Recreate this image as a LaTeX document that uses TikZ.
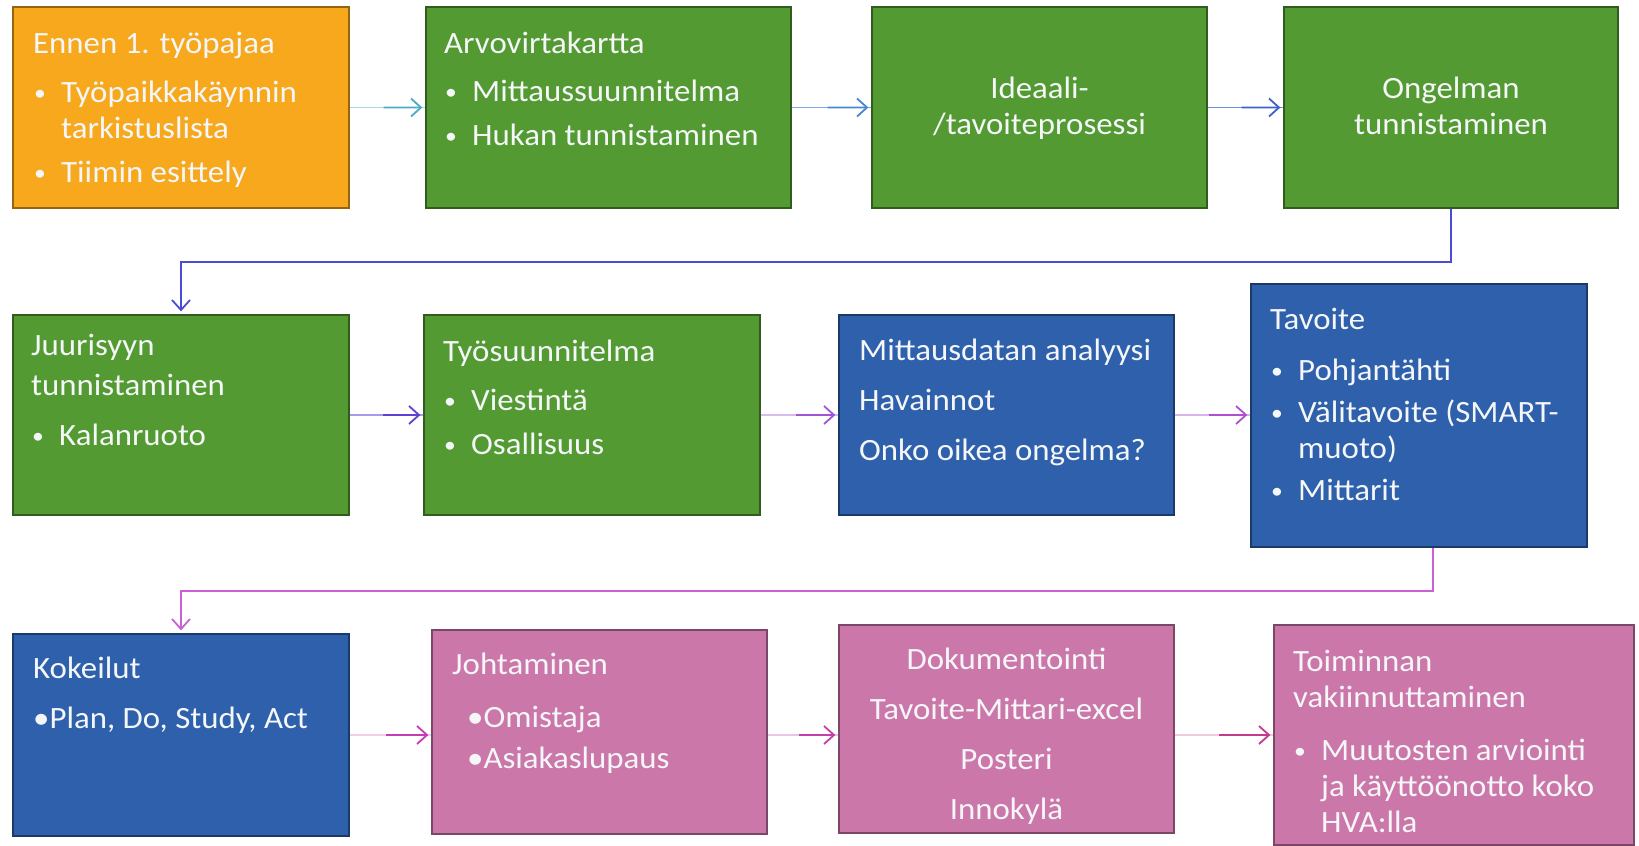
\documentclass[tikz,border=0pt]{standalone}
\usepackage{fontspec}
\setmainfont{Carlito}[FakeStretch=1.06]
\usetikzlibrary{arrows.meta,calc}
\definecolor{corange}{HTML}{F7A81D}
\definecolor{cgreen}{HTML}{529A31}
\definecolor{cblue}{HTML}{2E60AC}
\definecolor{cpink}{HTML}{CC77AA}
\definecolor{txtwhite}{HTML}{F4F6F8}
\definecolor{la1}{HTML}{A8D8E6}\definecolor{da1}{HTML}{4BACC6}
\definecolor{la2}{HTML}{7FAEE6}\definecolor{da2}{HTML}{4A86D0}
\definecolor{la3}{HTML}{6F93E0}\definecolor{da3}{HTML}{3C62CC}
\definecolor{ce1}{HTML}{4B4BD6}
\definecolor{la4}{HTML}{A99BE8}\definecolor{da4}{HTML}{5F40D0}
\definecolor{la5}{HTML}{D6BDEE}\definecolor{da5}{HTML}{A055D4}
\definecolor{la6}{HTML}{D8B4EC}\definecolor{da6}{HTML}{B050D0}
\definecolor{ce2}{HTML}{CB5FD6}
\definecolor{la7}{HTML}{F2CDEA}\definecolor{da7}{HTML}{C63CB4}
\definecolor{la8}{HTML}{ECC4E4}\definecolor{da8}{HTML}{C240AA}
\definecolor{la9}{HTML}{F2C8DC}\definecolor{da9}{HTML}{C43A8E}
\newcommand\smbul{\raisebox{1.5pt}{\scalebox{0.72}{\textbullet}}}
\newcommand\bl{\makebox[28pt][l]{\hspace{1pt}\smbul}}
\newcommand\ind{\hspace*{28pt}}
\tikzset{
  box/.style={draw=#1!60!black, fill=#1, line width=1.3pt, inner sep=0pt},
  txt/.style={text=txtwhite, inner sep=0pt, anchor=north west, align=left,
    font=\fontsize{31}{36}\selectfont},
  ctxt/.style={txt, anchor=north, align=center},
  conn/.style={line width=1.8pt, shorten >=3pt,
    -{Straight Barb[length=10pt,width=18pt,line width=1.8pt]}},
  pale/.style={line width=1.8pt}
}
\newcommand\twotone[4]{%
  \draw[pale,#3] (#1) -- (#2);
  \draw[conn,#4] ($(#1)!0.45!(#2)$) -- (#2);
}
\begin{document}
\begin{tikzpicture}[x=1pt,y=-1pt]
\useasboundingbox (0,0) rectangle (1639,846);
\fill[white] (0,0) rectangle (1639,846);
% boxes
\node[box=corange, minimum width=336pt, minimum height=201pt] (b1) at (181,107.5) {};
\node[box=cgreen, minimum width=365pt, minimum height=201pt] (b2) at (608.5,107.5) {};
\node[box=cgreen, minimum width=335pt, minimum height=201pt] (b3) at (1039.5,107.5) {};
\node[box=cgreen, minimum width=334pt, minimum height=201pt] (b4) at (1451,107.5) {};
\node[box=cgreen, minimum width=336pt, minimum height=200pt] (b5) at (181,415) {};
\node[box=cgreen, minimum width=336pt, minimum height=200pt] (b6) at (592,415) {};
\node[box=cblue, minimum width=335pt, minimum height=200pt] (b7) at (1006.5,415) {};
\node[box=cblue, minimum width=336pt, minimum height=263pt] (b8) at (1419,415.5) {};
\node[box=cblue, minimum width=336pt, minimum height=202pt] (b9) at (181,735) {};
\node[box=cpink, minimum width=335pt, minimum height=204pt] (b10) at (599.5,732) {};
\node[box=cpink, minimum width=335pt, minimum height=208pt] (b11) at (1006.5,729) {};
\node[box=cpink, minimum width=360pt, minimum height=220pt] (b12) at (1454,735) {};
% texts
\node[txt] (t1) at (33,27.8) {\strut Ennen 1. työpajaa\\[13pt]\bl Työpaikkakäynnin\\ \ind tarkistuslista\\[8pt]\bl Tiimin esittely};
\node[txt] (t2) at (444,27.8) {\strut Arvovirtakartta\\[12pt]\bl Mittaussuunnitelma\\[8pt]\bl Hukan tunnistaminen};
\node[ctxt] (t3) at (1039.5,72.8) {\strut Ideaali-\\/tavoiteprosessi};
\node[ctxt] (t4) at (1451,72.8) {\strut Ongelman\\tunnistaminen};
\node[txt] (t5) at (31,329.8) {\strut Juurisyyn\\[4pt]tunnistaminen\\[14pt]\bl Kalanruoto};
\node[txt] (t6) at (443,335.8) {\strut Työsuunnitelma\\[13pt]\bl Viestintä\\[8pt]\bl Osallisuus};
\node[txt] (t7) at (859,334.8) {\strut Mittausdatan analyysi\\[14pt]Havainnot\\[14pt]Onko oikea ongelma?};
\node[txt] (t8) at (1270,303.8) {\strut Tavoite\\[15pt]\bl Pohjantähti\\[6pt]\bl Välitavoite (SMART-\\ \ind muoto)\\[6pt]\bl Mittarit};
\node[txt] (t9) at (33,652.8) {\strut Kokeilut\\[14pt]\textbullet Plan, Do, Study, Act};
\node[txt] (t10) at (452,648.8) {\strut Johtaminen\\[17pt]\hspace*{15pt}\textbullet Omistaja\\[5pt]\hspace*{15pt}\textbullet Asiakaslupaus};
\node[ctxt] (t11) at (1006.5,643.8) {\strut Dokumentointi\\[14pt]Tavoite-Mittari-excel\\[14pt]Posteri\\[14pt]Innokylä};
\node[txt] (t12) at (1293,645.8) {\strut Toiminnan\\vakiinnuttaminen\\[17pt]\bl Muutosten arviointi\\ \ind ja käyttöönotto koko\\ \ind HVA:lla};
% row 1 arrows
\coordinate (a1s) at (b1.east);
\coordinate (a1e) at (b1.east -| b2.west);
\twotone{a1s}{a1e}{la1}{da1}
\coordinate (a2s) at (b2.east);
\coordinate (a2e) at (b2.east -| b3.west);
\twotone{a2s}{a2e}{la2}{da2}
\coordinate (a3s) at (b3.east);
\coordinate (a3e) at (b3.east -| b4.west);
\twotone{a3s}{a3e}{la3}{da3}
% elbow 1
\coordinate (m1) at (1451,262);
\coordinate (m2) at (181,262);
\draw[conn, ce1] (b4.south) -- (m1) -- (m2) -- (b5.north);
% row 2 arrows
\coordinate (a4s) at (b5.east);
\coordinate (a4e) at (b5.east -| b6.west);
\twotone{a4s}{a4e}{la4}{da4}
\coordinate (a5s) at (b6.east);
\coordinate (a5e) at (b6.east -| b7.west);
\twotone{a5s}{a5e}{la5}{da5}
\coordinate (a6s) at (b7.east);
\coordinate (a6e) at (b7.east -| b8.west);
\twotone{a6s}{a6e}{la6}{da6}
% elbow 2
\coordinate (m3) at (1433,591);
\coordinate (m4) at (181,591);
\draw[conn, ce2] (b8.south -| m3) -- (m3) -- (m4) -- (b9.north);
% row 3 arrows
\coordinate (a7s) at (b9.east);
\coordinate (a7e) at (b9.east -| b10.west);
\twotone{a7s}{a7e}{la7}{da7}
\coordinate (a8s) at (b10.east |- b9.east);
\coordinate (a8e) at (b9.east -| b11.west);
\twotone{a8s}{a8e}{la8}{da8}
\coordinate (a9s) at (b11.east |- b9.east);
\coordinate (a9e) at (b9.east -| b12.west);
\twotone{a9s}{a9e}{la9}{da9}
\end{tikzpicture}
\end{document}
